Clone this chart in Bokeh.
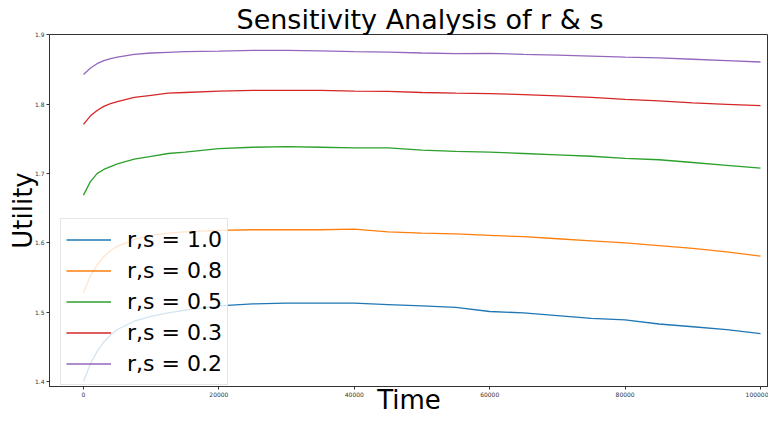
from bokeh.plotting import figure
from bokeh.models import Range1d, Legend, LegendItem, FixedTicker, NumeralTickFormatter
from bokeh.embed import file_html
from bokeh.resources import INLINE

# ---- data ----
time = [0, 1000, 2000, 3000, 4000, 5000, 7500, 10000, 12500, 15000, 20000, 25000,
        30000, 35000, 40000, 45000, 50000, 55000, 60000, 65000, 70000, 75000,
        80000, 85000, 90000, 95000, 100000]

util_10 = [1.400, 1.425, 1.443, 1.457, 1.467, 1.475, 1.487, 1.494, 1.499, 1.503, 1.509, 1.512,
           1.513, 1.513, 1.513, 1.511, 1.509, 1.507, 1.501, 1.499, 1.495, 1.491,
           1.489, 1.483, 1.479, 1.475, 1.469]
util_08 = [1.528, 1.552, 1.568, 1.580, 1.589, 1.595, 1.605, 1.611, 1.614, 1.616, 1.618, 1.619,
           1.619, 1.619, 1.620, 1.616, 1.614, 1.613, 1.611, 1.609, 1.606, 1.603,
           1.600, 1.596, 1.592, 1.587, 1.581]
util_05 = [1.669, 1.688, 1.700, 1.706, 1.710, 1.714, 1.721, 1.725, 1.729, 1.731, 1.736, 1.738,
           1.739, 1.738, 1.737, 1.737, 1.734, 1.732, 1.731, 1.729, 1.727, 1.725,
           1.722, 1.720, 1.716, 1.712, 1.708]
util_03 = [1.771, 1.783, 1.791, 1.797, 1.801, 1.804, 1.810, 1.813, 1.816, 1.817, 1.819, 1.820,
           1.820, 1.820, 1.819, 1.8187, 1.817, 1.816, 1.8155, 1.814, 1.812, 1.810,
           1.807, 1.805, 1.802, 1.800, 1.798]
util_02 = [1.843, 1.852, 1.8586, 1.863, 1.866, 1.868, 1.872, 1.874, 1.875, 1.876, 1.8767, 1.8777,
           1.8777, 1.877, 1.876, 1.8753, 1.874, 1.873, 1.8735, 1.872, 1.871, 1.8695,
           1.868, 1.867, 1.865, 1.863, 1.861]

series_labels = ["r,s = 1.0", "r,s = 0.8", "r,s = 0.5", "r,s = 0.3", "r,s = 0.2"]
series_values = [util_10, util_08, util_05, util_03, util_02]
series_colors = ["#1f77b4", "#ff7f0e", "#2ca02c", "#d62728", "#9467bd"]

x_ticks = [0, 20000, 40000, 60000, 80000, 100000]
y_ticks = [1.4, 1.5, 1.6, 1.7, 1.8, 1.9]

title_text = "Sensitivity Analysis of r & s"
x_label = "Time"
y_label = "Utility"

FONT = "DejaVu Sans"

p = figure(width=768, height=417, output_backend="svg", toolbar_location=None,
           x_range=Range1d(-5020, 101180), y_range=Range1d(1.3928, 1.9007),
           min_border_left=49, min_border_right=0, min_border_top=34, min_border_bottom=27)
p.xgrid.visible = False
p.ygrid.visible = False
p.outline_line_color = "#333333"
p.outline_line_width = 1

p.title.text = title_text
p.title.text_font = FONT
p.title.text_font_size = "27px"
p.title.text_font_style = "normal"
p.title.text_color = "black"
p.title.align = "left"
p.title.offset = 187
p.title.standoff = 0
p.title.text_line_height = 1.0

for ax, ticks in ((p.xaxis, x_ticks), (p.yaxis, y_ticks)):
    ax.ticker = FixedTicker(ticks=ticks)
    ax.minor_tick_line_color = None
    ax.major_tick_in = 0
    ax.major_tick_out = 3
    ax.major_label_text_font_size = "6px"
    ax.major_label_text_font = FONT
    ax.major_label_text_color = "#333333"
    ax.major_label_standoff = 2
    ax.axis_line_color = "#333333"
    ax.major_tick_line_color = "#333333"
    ax.axis_label_text_font = FONT
    ax.axis_label_text_font_size = "26px"
    ax.axis_label_text_font_style = "normal"
    ax.axis_label_text_color = "black"
    ax.axis_label_text_line_height = 1.0

p.xaxis.formatter = NumeralTickFormatter(format="0")
p.xaxis.axis_label = x_label
p.xaxis.axis_label_standoff = -15
p.yaxis.axis_label = y_label
p.yaxis.axis_label_standoff = -6

items = []
for lab, vals, col in zip(series_labels, series_values, series_colors):
    r = p.line(time, vals, line_color=col, line_width=1.3)
    items.append(LegendItem(label=lab, renderers=[r]))

legend = Legend(items=items, location=(11, 1), label_text_font_size="22px",
                label_text_font=FONT, label_text_color="black",
                glyph_width=45, glyph_height=31, label_height=31,
                label_standoff=16, spacing=0, padding=5, margin=0,
                border_line_color="#cccccc", border_line_width=1,
                background_fill_alpha=0.8)
p.add_layout(legend, "center")

open("out.html", "w").write(file_html(p, INLINE))
